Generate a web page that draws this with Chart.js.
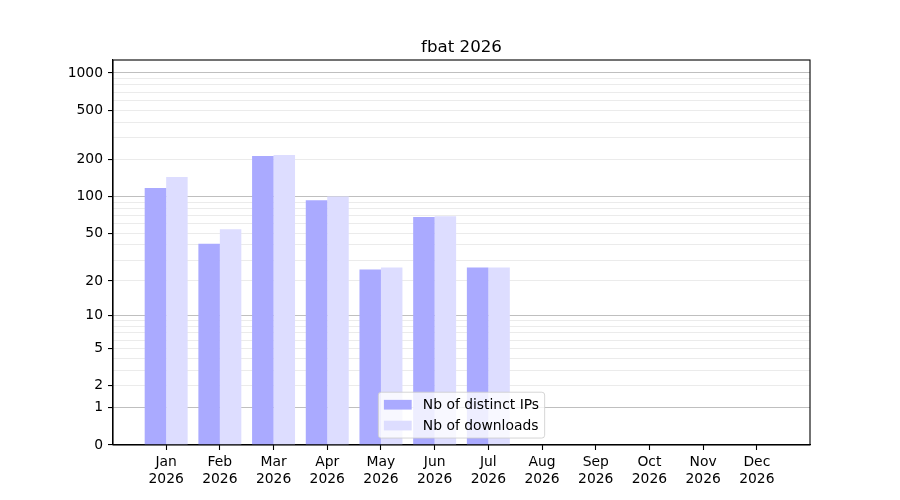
<!DOCTYPE html>
<html>
<head>
<meta charset="utf-8">
<script src="https://cdn.jsdelivr.net/npm/chart.js@4"></script>
<style>
  html, body { margin: 0; padding: 0; background: #fff; }
  #wrap { width: 900px; height: 500px; }
</style>
</head>
<body>
<div id="wrap"><canvas id="fbatChart" width="900" height="500"></canvas></div>
<script>
const months = ['Jan', 'Feb', 'Mar', 'Apr', 'May', 'Jun', 'Jul', 'Aug', 'Sep', 'Oct', 'Nov', 'Dec'];
const year = '2026';
const distinctIPs = [117, 41, 213, 93, 25, 68, 26, 0, 0, 0, 0, 0];
const downloads = [144, 54, 217, 100, 26, 69, 26, 0, 0, 0, 0, 0];
const yTickValues = [0, 1, 2, 5, 10, 20, 50, 100, 200, 500, 1000];
const yMinorValues = [3, 4, 6, 7, 8, 9, 30, 40, 60, 70, 80, 90, 300, 400, 600, 700, 800, 900];
const yMajorGrid = [1, 10, 100, 1000];
const yTop = 1272;

// y axis is log10(1 + v), like the original
const sl = v => Math.log10(1 + v);
const rawOf = t => Math.round(Math.pow(10, t) - 1);

const FONT = "'DejaVu Sans', 'Liberation Sans', sans-serif";
const FS = 13.89;

const framePlugin = {
    id: 'frame',
    afterDraw(chart) {
        const a = chart.chartArea, ctx = chart.ctx;
        ctx.save();
        ctx.strokeStyle = '#000';
        ctx.lineWidth = 1.1;
        ctx.strokeRect(a.left, a.top, a.right - a.left, a.bottom - a.top);
        ctx.restore();
    }
};

// matplotlib style legend, lower center inside the axes
const boxLegend = {
    id: 'boxLegend',
    afterDraw(chart) {
        const a = chart.chartArea, ctx = chart.ctx;
        const sets = chart.data.datasets;
        const pad = 0.4 * FS, handle = 2 * FS, textPad = 0.8 * FS, rowGap = 0.5 * FS;
        ctx.save();
        ctx.font = FS + 'px ' + FONT;
        const textW = Math.max(...sets.map(d => ctx.measureText(d.label).width));
        const w = pad * 2 + handle + textPad + textW;
        const h = pad * 2 + sets.length * FS + (sets.length - 1) * rowGap;
        const x = (a.left + a.right) / 2 - w / 2;
        const y = a.bottom - 0.5 * FS - h;
        ctx.beginPath();
        ctx.roundRect(x, y, w, h, 0.2 * FS);
        ctx.fillStyle = 'rgba(255,255,255,0.8)';
        ctx.fill();
        ctx.strokeStyle = 'rgba(204,204,204,0.8)';
        ctx.lineWidth = 1;
        ctx.stroke();
        ctx.textBaseline = 'middle';
        sets.forEach((d, i) => {
            const cy = y + pad + i * (FS + rowGap) + FS / 2;
            ctx.fillStyle = d.backgroundColor;
            ctx.fillRect(x + pad, cy - 0.35 * FS, handle, 0.7 * FS);
            ctx.fillStyle = '#000';
            ctx.fillText(d.label, x + pad + handle + textPad, cy + 1);
        });
        ctx.restore();
    }
};

const allY = [...yTickValues, ...yMinorValues].sort((p, q) => p - q);

new Chart(document.getElementById('fbatChart').getContext('2d'), {
    type: 'bar',
    data: {
        datasets: [{
            label: 'Nb of distinct IPs',
            data: distinctIPs.map((v, i) => ({x: i, y: sl(v)})),
            backgroundColor: '#aaaaff'
        }, {
            label: 'Nb of downloads',
            data: downloads.map((v, i) => ({x: i, y: sl(v)})),
            backgroundColor: '#ddddff'
        }]
    },
    options: {
        responsive: false,
        animation: false,
        devicePixelRatio: 1,
        layout: {padding: {left: 0, right: 90, top: 0, bottom: 0}},
        datasets: {bar: {categoryPercentage: 0.8, barPercentage: 1.0, borderWidth: 0}},
        scales: {
            x: {
                type: 'linear',
                min: -0.99,
                max: 11.99,
                offset: false,
                afterBuildTicks: s => { s.ticks = months.map((m, i) => ({value: i})); },
                afterFit: s => { s.height = 55; },
                ticks: {
                    autoSkip: false,
                    maxRotation: 0,
                    padding: 4,
                    color: '#000',
                    font: {family: FONT, size: FS},
                    callback: v => [months[v], year]
                },
                grid: {offset: false, drawOnChartArea: false, tickLength: 5, tickColor: '#000', tickWidth: 1.1},
                border: {color: '#000', width: 1.1}
            },
            y: {
                type: 'linear',
                min: 0,
                max: sl(yTop),
                z: 1,
                afterBuildTicks: s => { s.ticks = allY.map(v => ({value: sl(v)})); },
                afterFit: s => { s.width = 113; },
                ticks: {
                    autoSkip: false,
                    padding: 5,
                    color: '#000',
                    font: {family: FONT, size: FS},
                    callback: v => {
                        const r = rawOf(v);
                        return yTickValues.includes(r) ? String(r) : '';
                    }
                },
                grid: {
                    lineWidth: 1.1,
                    tickLength: 5,
                    tickWidth: 1.1,
                    color: ctx => {
                        const r = rawOf(ctx.tick.value);
                        if (r === 0) return 'rgba(0,0,0,0)';
                        return yMajorGrid.includes(r) ? 'rgba(0,0,0,0.25)' : 'rgba(0,0,0,0.08)';
                    },
                    tickColor: ctx => yTickValues.includes(rawOf(ctx.tick.value)) ? '#000' : 'rgba(0,0,0,0)'
                },
                border: {color: '#000', width: 1.1}
            }
        },
        plugins: {
            legend: {display: false},
            tooltip: {enabled: false},
            title: {
                display: true,
                text: 'fbat 2026',
                fullSize: false,
                color: '#000',
                font: {family: FONT, size: 16.67, weight: 'normal'},
                padding: {top: 38, bottom: 2}
            }
        }
    },
    plugins: [framePlugin, boxLegend]
});
</script>
</body>
</html>
